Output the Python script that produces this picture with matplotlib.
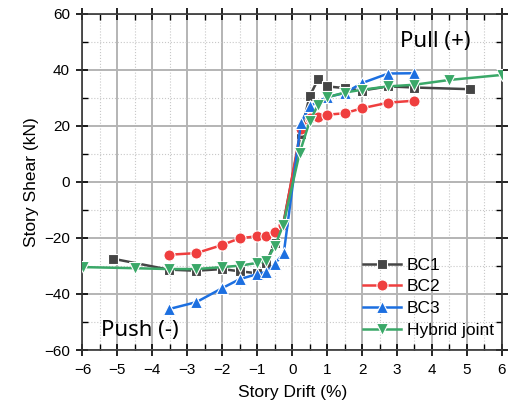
import matplotlib.pyplot as plt
from matplotlib.ticker import MultipleLocator

# drift (%) / shear (kN)
bc1_x = [-5.13, -3.53, -2.75, -2.0, -1.5, -1.0, -0.74, -0.5, -0.26,
         0.24, 0.5, 0.74, 1.0, 1.5, 2.0, 2.75, 3.5, 5.1]
bc1_y = [-27.4, -31.3, -31.7, -31.1, -31.9, -32.6, -28.9, -21.7, -15.2,
         17.0, 30.6, 36.6, 34.1, 33.5, 32.6, 34.1, 33.7, 33.1]

bc2_x = [-3.53, -2.74, -2.0, -1.5, -1.0, -0.74, -0.5, -0.25,
         0.25, 0.5, 0.74, 1.0, 1.5, 2.0, 2.75, 3.5]
bc2_y = [-26.0, -25.4, -22.5, -20.1, -19.4, -19.4, -17.9, -15.2,
         19.0, 22.7, 23.1, 24.0, 24.5, 26.3, 28.3, 29.0]

bc3_x = [-3.53, -2.74, -2.0, -1.5, -1.0, -0.74, -0.5, -0.24,
         0.25, 0.5, 1.0, 1.5, 2.0, 2.75, 3.5]
bc3_y = [-45.4, -42.9, -37.9, -34.7, -32.9, -32.1, -29.3, -25.4,
         21.0, 27.0, 30.3, 31.7, 35.3, 38.7, 38.8]

hyb_x = [-5.98, -4.5, -3.53, -2.75, -2.0, -1.5, -1.0, -0.74, -0.5, -0.25,
         0.21, 0.5, 0.74, 1.0, 1.5, 2.0, 2.75, 3.5, 4.5, 6.0]
hyb_y = [-30.4, -30.8, -31.1, -31.1, -30.4, -29.9, -28.9, -28.3, -23.0, -15.2,
         10.2, 21.6, 27.5, 30.2, 31.9, 32.9, 34.1, 34.7, 36.4, 38.2]

plt.rcParams["font.family"] = ["Liberation Sans", "DejaVu Sans"]

fig = plt.figure(figsize=(5.09, 4.07), dpi=100)
ax = fig.add_axes([0.162, 0.14, 0.824, 0.826])

series = [
    (bc1_x, bc1_y, "BC1", "#454545", "s", 7),
    (bc2_x, bc2_y, "BC2", "#ef3e3e", "o", 8),
    (bc3_x, bc3_y, "BC3", "#1c6fe0", "^", 8.5),
    (hyb_x, hyb_y, "Hybrid joint", "#3aa868", "v", 8.5),
]
for x, y, lab, c, m, ms in series:
    ax.plot(x, y, color=c, marker=m, markersize=ms, lw=1.8,
            markeredgecolor="white", markeredgewidth=0.8, label=lab, zorder=3)

ax.set_xlim(-6, 6)
ax.set_ylim(-60, 60)
ax.xaxis.set_major_locator(MultipleLocator(1))
ax.xaxis.set_minor_locator(MultipleLocator(0.5))
ax.yaxis.set_major_locator(MultipleLocator(20))
ax.yaxis.set_minor_locator(MultipleLocator(10))
ax.grid(True, which="major", color="#b4b4b4", lw=1.4)
ax.grid(True, which="minor", color="#c8c8c8", lw=0.8, ls=":")
ax.tick_params(which="major", direction="inout", length=8, width=1.2,
               top=True, right=True, labelsize=11, pad=5)
ax.tick_params(which="minor", direction="in", length=4, width=1.0,
               top=True, right=True)
for s in ax.spines.values():
    s.set_linewidth(1.2)
    s.set_color("#333333")

ax.set_xlabel("Story Drift (%)", fontsize=12.5, labelpad=6)
ax.set_ylabel("Story Shear (kN)", fontsize=12.5, labelpad=4)

ax.text(4.1, 50, "Pull (+)", fontsize=16, family="Noto Sans", ha="center", va="center")
ax.text(-4.36, -53, "Push (-)", fontsize=16, family="Noto Sans", ha="center", va="center")

ax.legend(loc="upper left", bbox_to_anchor=(0.668, 0.275), frameon=False,
          fontsize=12.5, handlelength=2.2, labelspacing=0.38, handletextpad=0.35,
          borderaxespad=0.0, borderpad=0.0)

fig.savefig("out.png", dpi=100)
